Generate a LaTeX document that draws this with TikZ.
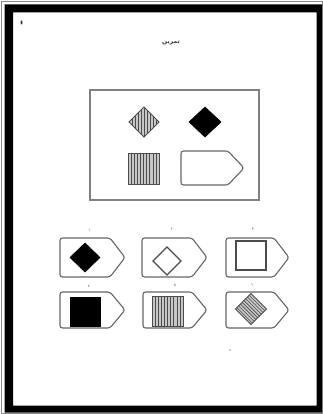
\documentclass[tikz,border=0pt]{standalone}
\usepackage{fontspec}
\newfontfamily\arabicfont[Script=Arabic]{DejaVu Sans}
\TeXXeTstate=1
\begin{document}
\begin{tikzpicture}[x=1pt,y=-1pt,
  outline/.style={draw=black!60,line width=1.1pt,rounded corners=2.5pt},
  hollow/.style={draw=black!70,line width=1.3pt},
  solidshape/.style={fill=black,draw=black,line width=0.6pt},
  stripefill/.style={fill=black!22},
  stripeline/.style={draw=black!70,line width=0.6pt},
  stripeedge/.style={draw=black!70,line width=0.8pt},
  lbl/.style={font=\arabicfont\fontsize{3.8}{4}\selectfont,text=black!65,inner sep=0pt}]
\useasboundingbox (0,0) rectangle (323,414);
\fill[white] (0,0) rectangle (323,414);
% frame
\draw[black!45,line width=0.8pt] (1.2,1.2) rectangle (322.6,413.6);
\fill[black,even odd rule] (4.5,4.5) rectangle (322,412.5) (13,12.5) rectangle (316.5,405.5);
% scan marks
\fill[black!80] (21.5,22.5) ellipse (1pt and 2pt);
\fill[black!35] (230,350) circle (0.8pt);
% title
\node[font=\arabicfont\bfseries\fontsize{6}{7}\selectfont,text=black!80,inner sep=0pt] (title) at (171,43) {\beginR تمرين\endR};
% reference box
\draw[draw=black!50,line width=1.2pt] (90,90) rectangle (259,200);
% striped diamond
\begin{scope}
 \clip (144,107) -- (159,122) -- (144,137) -- (129,122) -- cycle;
 \fill[stripefill] (129,107) rectangle (159,137);
 \foreach \i in {-12,-9,...,12} \draw[stripeline] (144+\i,106) -- (144+\i,138);
\end{scope}
\draw[stripeedge] (144,107) -- (159,122) -- (144,137) -- (129,122) -- cycle;
% black diamond
\draw[solidshape] (205,107) -- (221,122) -- (205,137) -- (189,122) -- cycle;
% striped square
\fill[stripefill] (128,153) rectangle (159,184);
\foreach \i in {1,...,9} \draw[stripeline] (128+\i*3.1,153) -- (128+\i*3.1,184);
\draw[stripeedge] (128,153) rectangle (159,184);
% empty pentagon
\draw[outline] (181,151) -- (228,151) -- (244,168) -- (228,185) -- (181,185) -- cycle;
% options row 1
\draw[outline] (60,238) -- (110,238) -- (125,257.5) -- (110,277) -- (60,277) -- cycle;
\draw[outline] (142,238) -- (192,238) -- (207,257.5) -- (192,277) -- (142,277) -- cycle;
\draw[outline] (226,238) -- (274,238) -- (289,257.5) -- (274,277) -- (226,277) -- cycle;
\draw[solidshape] (85,243) -- (100,257.5) -- (85,272) -- (70,257.5) -- cycle;
\draw[hollow] (167,247) -- (181,261) -- (167,275) -- (153,261) -- cycle;
\draw[hollow] (236,241) rectangle (266,270);
% options row 2
\draw[outline] (60,292) -- (110,292) -- (125,310) -- (110,328) -- (60,328) -- cycle;
\draw[outline] (143,292) -- (192,292) -- (207,310) -- (192,328) -- (143,328) -- cycle;
\draw[outline] (226,292) -- (274,292) -- (289,310) -- (274,328) -- (226,328) -- cycle;
\draw[solidshape] (70,297) rectangle (100,326);
\fill[stripefill] (152,296) rectangle (183,326);
\foreach \i in {1,...,9} \draw[stripeline] (152+\i*3.1,296) -- (152+\i*3.1,326);
\draw[stripeedge] (152,296) rectangle (183,326);
\begin{scope}[shift={(251,309)},rotate=45]
 \begin{scope}
  \clip (-11,-11) rectangle (11,11);
  \fill[stripefill] (-11,-11) rectangle (11,11);
  \foreach \i in {-9,-6.5,...,9} \draw[stripeline] (\i,-12) -- (\i,12);
 \end{scope}
 \draw[stripeedge] (-11,-11) rectangle (11,11);
\end{scope}
% labels
\node[lbl] (l1) at (90,230) {١};
\node[lbl] (l2) at (172,229) {٢};
\node[lbl] (l3) at (253,229) {٣};
\node[lbl] (l4) at (89,286) {٤};
\node[lbl] (l5) at (175,285) {٥};
\node[lbl] (l6) at (252,285) {٦};
\end{tikzpicture}
\end{document}
